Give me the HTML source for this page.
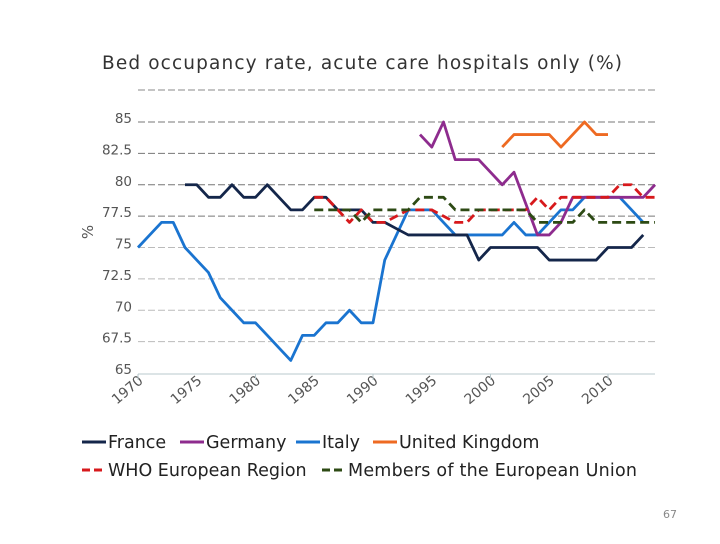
<!DOCTYPE html>
<html><head><meta charset="utf-8"><style>
body{margin:0;width:720px;height:540px;background:#fff;overflow:hidden;font-family:"DejaVu Sans","Liberation Sans",sans-serif}
</style></head><body>
<svg width="720" height="540" xmlns="http://www.w3.org/2000/svg" font-family="DejaVu Sans, Liberation Sans, sans-serif">
<text x="102" y="69" font-size="18.5" fill="#333" textLength="520">Bed occupancy rate, acute care hospitals only (%)</text>
<text transform="translate(93,232) rotate(-90)" font-size="15" fill="#555" text-anchor="middle">%</text>
<g id="grid"></g><g id="ylab"></g><g id="xlab"></g><g id="series"></g>
<line x1="138" y1="90" x2="655" y2="90" stroke="#888" stroke-dasharray="7,3"/>
<line x1="138" y1="374" x2="655" y2="374" stroke="#b8c8cc"/>
<g font-size="17.5" fill="#222">
<line x1="82" y1="442" x2="106" y2="442" stroke="#14264a" stroke-width="3"/><text x="108" y="448">France</text>
<line x1="180" y1="442" x2="204" y2="442" stroke="#8e2c8e" stroke-width="3"/><text x="206" y="448">Germany</text>
<line x1="296" y1="442" x2="320" y2="442" stroke="#1a74d0" stroke-width="3"/><text x="322" y="448">Italy</text>
<line x1="373" y1="442" x2="397" y2="442" stroke="#ee6a22" stroke-width="3"/><text x="399" y="448">United Kingdom</text>
<line x1="82" y1="470" x2="106" y2="470" stroke="#d7191c" stroke-width="3" stroke-dasharray="8,4"/><text x="108" y="476">WHO European Region</text>
<line x1="322" y1="470" x2="346" y2="470" stroke="#2d4a14" stroke-width="3" stroke-dasharray="8,4"/><text x="348" y="476" textLength="289">Members of the European Union</text>
</g>
<text x="677" y="518" font-size="11" fill="#888" text-anchor="end">67</text>
</svg>
<script>
const yTicks=[65,67.5,70,72.5,75,77.5,80,82.5,85];
const yTickLabels=["65","67.5","70","72.5","75","77.5","80","82.5","85"];
const xTickLabels=["1970","1975","1980","1985","1990","1995","2000","2005","2010"];
const franceYears=[1974,1975,1976,1977,1978,1979,1980,1981,1982,1983,1984,1985,1986,1987,1988,1989,1990,1991,1992,1993,1994,1995,1996,1997,1998,1999,2000,2001,2002,2003,2004,2005,2006,2007,2008,2009,2010,2011,2012,2013];
const franceValues=[80,80,79,79,80,79,79,80,79,78,78,79,79,78,78,78,77,77,76.5,76,76,76,76,76,76,74,75,75,75,75,75,74,74,74,74,74,75,75,75,76];
const italyYears=[1970,1971,1972,1973,1974,1975,1976,1977,1978,1979,1980,1981,1982,1983,1984,1985,1986,1987,1988,1989,1990,1991,1992,1993,1994,1995,1996,1997,1998,1999,2000,2001,2002,2003,2004,2005,2006,2007,2008,2009,2010,2011,2012,2013];
const italyValues=[75,76,77,77,75,74,73,71,70,69,69,68,67,66,68,68,69,69,70,69,69,74,76,78,78,78,77,76,76,76,76,76,77,76,76,77,78,78,79,79,79,79,78,77];
const germanyYears=[1994,1995,1996,1997,1998,1999,2000,2001,2002,2003,2004,2005,2006,2007,2008,2009,2010,2011,2012,2013,2014];
const germanyValues=[84,83,85,82,82,82,81,80,81,78.5,76,76,77,79,79,79,79,79,79,79,80];
const ukYears=[2001,2002,2003,2004,2005,2006,2007,2008,2009,2010];
const ukValues=[83,84,84,84,84,83,84,85,84,84];
const whoYears=[1985,1986,1987,1988,1989,1990,1991,1992,1993,1994,1995,1996,1997,1998,1999,2000,2001,2002,2003,2004,2005,2006,2007,2008,2009,2010,2011,2012,2013,2014];
const whoValues=[79,79,78,77,78,77,77,77.5,78,78,78,77.5,77,77,78,78,78,78,78,79,78,79,79,79,79,79,80,80,79,79];
const euYears=[1985,1986,1987,1988,1989,1990,1991,1992,1993,1994,1995,1996,1997,1998,1999,2000,2001,2002,2003,2004,2005,2006,2007,2008,2009,2010,2011,2012,2013,2014];
const euValues=[78,78,78,78,77,78,78,78,78,79,79,79,78,78,78,78,78,78,78,77,77,77,77,78,77,77,77,77,77,77];
const NS="http://www.w3.org/2000/svg";
function xs(yr){return 138+(yr-1970)*11.75;}
function ys(v){return 373-(v-65)*12.55;}
function mk(t,a,p){const e=document.createElementNS(NS,t);for(const k in a)e.setAttribute(k,a[k]);p.appendChild(e);return e;}
const grid=document.getElementById('grid'),ylab=document.getElementById('ylab'),xlab=document.getElementById('xlab'),ser=document.getElementById('series');
yTicks.forEach((v,i)=>{
 if(v>65){const l=mk('line',{x1:138,x2:655,y1:ys(v),y2:ys(v),stroke:v>=77.5?'#777':'#bbb','stroke-dasharray':'7,3'},grid);
 
 }
 const t=mk('text',{x:132,y:ys(v)+1,'font-size':13.5,fill:'#555','text-anchor':'end'},ylab);t.textContent=yTickLabels[i];
 
 
});
xTickLabels.forEach((s,i)=>{
 const x=xs(1970+i*5)+6;
 const t=mk('text',{x:x,y:382,'font-size':14,fill:'#555','text-anchor':'end',transform:`rotate(-40 ${x} 382)`},xlab);t.textContent=s;
 
 
});
[1970,1980,1990,2000,2010].forEach(y=>{const x=xs(y);const l=mk('line',{x1:x,x2:x,y1:374,y2:380,stroke:'#b8c8cc'},xlab);
 
 });
function draw(yrs,vals,color,dash,name){
 const p=mk('polyline',{points:yrs.map((y,i)=>xs(y)+','+ys(vals[i])).join(' '),fill:'none',stroke:color,'stroke-width':2.8,'stroke-linejoin':'round'},ser);
 if(dash)p.setAttribute('stroke-dasharray','9,5');
 
 
}
draw(italyYears,italyValues,'#1a74d0',false,'italy-line');
draw(franceYears,franceValues,'#14264a',false,'france-line');
draw(germanyYears,germanyValues,'#8e2c8e',false,'germany-line');
draw(ukYears,ukValues,'#ee6a22',false,'uk-line');
draw(whoYears,whoValues,'#d7191c',true,'who-line');
draw(euYears,euValues,'#2d4a14',true,'eu-line');
</script>
</body></html>
